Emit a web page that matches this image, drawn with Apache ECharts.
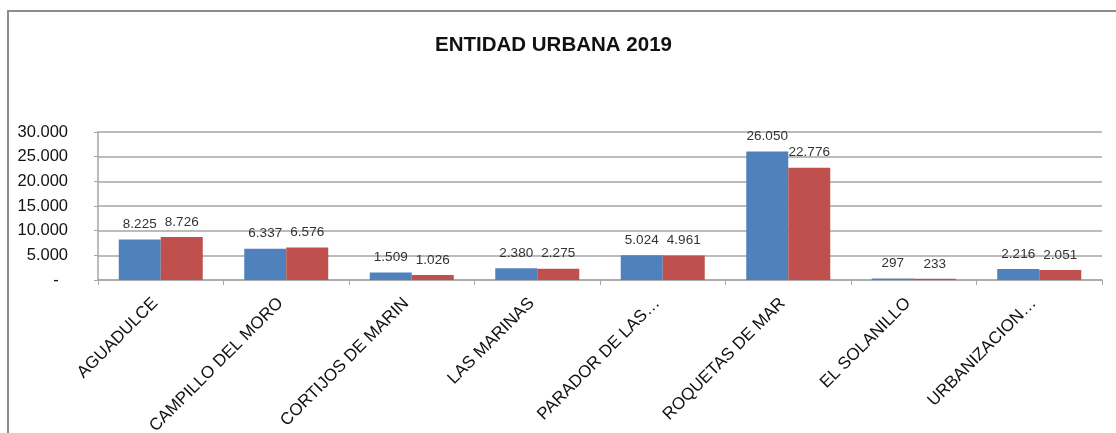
<!DOCTYPE html>
<html>
<head>
<meta charset="utf-8">
<script src="https://cdn.jsdelivr.net/npm/echarts@6/dist/echarts.min.js"></script>
<style>
  html, body { margin: 0; padding: 0; background: #fff; }
  #chart { width: 1116px; height: 433px; }
</style>
</head>
<body>
<div id="chart"></div>
<script>
const categories = [
  'AGUADULCE', 'CAMPILLO DEL MORO', 'CORTIJOS DE MARIN', 'LAS MARINAS',
  'PARADOR DE LAS…', 'ROQUETAS DE MAR', 'EL SOLANILLO', 'URBANIZACION…',
];
const serieA = [8225, 6337, 1509, 2380, 5024, 26050, 297, 2216];
const serieB = [8726, 6576, 1026, 2275, 4961, 22776, 233, 2051];
const yTicks = [0, 5000, 10000, 15000, 20000, 25000, 30000];

const font = "'Liberation Sans', Arial, sans-serif";

function fmt(v) {
  return String(v).replace(/\B(?=(\d{3})+(?!\d))/g, '.');
}

const myChart = echarts.init(document.getElementById('chart'));

const barLabel = {
  show: true,
  position: 'top',
  distance: 8,
  color: '#333',
  fontFamily: font,
  fontSize: 13.5,
  formatter: p => fmt(p.value),
};

myChart.setOption({
  animation: false,
  title: {
    text: 'ENTIDAD URBANA 2019',
    left: 430,
    top: 30,
    textStyle: { fontFamily: font, fontSize: 20.5, fontWeight: 'bold', color: '#111' },
  },
  graphic: [
    {
      type: 'polyline',
      shape: { points: [[8, 440], [8, 11], [1120, 11]] },
      style: { stroke: '#8c8c8c', lineWidth: 2, fill: null },
    },
  ],
  grid: { left: 98, right: 14, top: 132, bottom: 153, outerBoundsMode: 'none' },
  xAxis: {
    type: 'category',
    data: categories,
    axisLine: { lineStyle: { color: '#a6a6a6', width: 1.5 } },
    axisTick: { show: true, length: 5, lineStyle: { color: '#a6a6a6' } },
    axisLabel: {
      interval: 0,
      rotate: 45,
      margin: 15,
      padding: [0, 8, 0, 0],
      color: '#111',
      fontFamily: font,
      fontSize: 17,
    },
  },
  yAxis: {
    type: 'value',
    min: yTicks[0],
    max: yTicks[yTicks.length - 1],
    interval: 5000,
    axisLine: { show: true, lineStyle: { color: '#a6a6a6', width: 1.5 } },
    axisTick: { show: true, length: 4, lineStyle: { color: '#a6a6a6' } },
    splitLine: { lineStyle: { color: '#a6a6a6', width: 1.5 } },
    axisLabel: {
      margin: 30,
      color: '#111',
      fontFamily: font,
      fontSize: 16.5,
      formatter: v => (v === 0 ? '-  ' : fmt(v)),
    },
  },
  series: [
    {
      name: '2018',
      type: 'bar',
      data: serieA,
      barWidth: 42,
      barGap: '0%',
      itemStyle: { color: '#4F81BD' },
      label: barLabel,
    },
    {
      name: '2019',
      type: 'bar',
      data: serieB,
      barWidth: 42,
      itemStyle: { color: '#C0504D' },
      label: barLabel,
    },
  ],
});
</script>
</body>
</html>
